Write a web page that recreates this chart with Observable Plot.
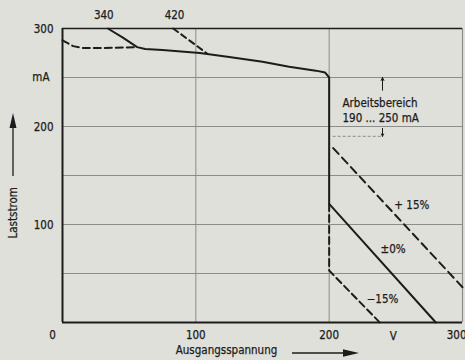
<!DOCTYPE html>
<html>
<head>
<meta charset="utf-8">
<script src="https://cdn.jsdelivr.net/npm/d3@7"></script>
<script src="https://cdn.jsdelivr.net/npm/@observablehq/plot@0.6"></script>
<style>
  html, body { margin: 0; padding: 0; background: #e0e0da; }
  svg { display: block; }
</style>
</head>
<body>
<div id="chart"></div>
<script>
// Main characteristic (solid)
const mainV = [34, 45, 56, 62, 75, 103, 125, 150, 170, 190, 197, 200, 200, 280];
const mainI = [300, 291, 281, 279, 278, 275, 271, 266, 261, 257, 255, 250, 121, 0];
// 340 V branch (dashed, left)
const d340V = [0, 8, 16, 30, 56];
const d340I = [288, 282, 280, 280, 281];
// 420 V branch (dashed)
const d420V = [83, 95, 108];
const d420I = [300, 288, 275];
// +15 % branch (dashed)
const plusV = [203, 300];
const plusI = [178, 36];
// -15 % branch (dashed)
const minusV = [200, 200, 238];
const minusI = [121, 53, 0];

const gridY = [50, 100, 150, 200, 250];
const gridX = [100, 200];
const yTicks = [100, 200, 300];
const yTickLabels = ["100", "200", "300"];
const xTicks = [100, 200];
const xTickLabels = ["100", "200"];
const topLabels = [{v: 31, t: "340"}, {v: 84, t: "420"}];
const pctLabels = [
  {v: 262, i: 120, t: "+ 15%"},
  {v: 248, i: 75, t: "±0%"},
  {v: 240, i: 24, t: "−15%"}
];
const workLow = 190, workHigh = 250;

const zip = (xs, ys) => xs.map((x, k) => ({x, y: ys[k]}));
const font = "'DejaVu Sans Condensed', 'DejaVu Sans', sans-serif";
const ink = "#1c1c1c";
const gridC = "#8c8c88";
const txt = {fill: ink, stroke: ink, strokeWidth: 0.25};

const chart = Plot.plot({
  width: 465,
  height: 360,
  marginLeft: 62,
  marginRight: 3,
  marginTop: 28,
  marginBottom: 38,
  x: {domain: [0, 300], axis: null},
  y: {domain: [0, 300], axis: null},
  style: {background: "#e0e0da", fontFamily: font, fontSize: "11.5px", color: ink},
  marks: [
    // grid
    Plot.ruleY(gridY, {stroke: gridC, strokeWidth: 1}),
    Plot.ruleX(gridX, {stroke: gridC, strokeWidth: 1}),
    Plot.ruleX([300], {stroke: gridC, strokeWidth: 1.2}),
    // frame
    Plot.ruleY([300], {stroke: ink, strokeWidth: 1.6}),
    Plot.ruleY([0], {stroke: ink, strokeWidth: 2}),
    Plot.ruleX([0], {stroke: ink, strokeWidth: 2}),
    // curves
    Plot.line(zip(mainV, mainI), {x: "x", y: "y", stroke: ink, strokeWidth: 2, curve: "linear"}),
    Plot.line(zip(d340V, d340I), {x: "x", y: "y", stroke: ink, strokeWidth: 2, strokeDasharray: "7,4"}),
    Plot.line(zip(d420V, d420I), {x: "x", y: "y", stroke: ink, strokeWidth: 2, strokeDasharray: "6,4"}),
    Plot.line(zip(plusV, plusI), {x: "x", y: "y", stroke: ink, strokeWidth: 2, strokeDasharray: "8,5"}),
    Plot.line(zip(minusV, minusI), {x: "x", y: "y", stroke: ink, strokeWidth: 2, strokeDasharray: "7,4"}),
    // working-range bracket
    Plot.ruleY([workLow], {x1: 203, x2: 240, stroke: gridC, strokeWidth: 1, strokeDasharray: "3,2"}),
    Plot.arrow([{y1: 237, y2: workHigh}, {y1: 198, y2: workLow}], {
      x: 240, y1: "y1", y2: "y2", stroke: ink, strokeWidth: 1, headLength: 5, headAngle: 50
    }),
    Plot.text(["Arbeitsbereich"], {x: 210, y: 224, text: d => d, textAnchor: "start", ...txt}),
    Plot.text(["190 ... 250 mA"], {x: 210, y: 208, text: d => d, textAnchor: "start", ...txt}),
    // percentage labels
    Plot.text(pctLabels, {x: "v", y: "i", text: "t", ...txt}),
    // top curve labels
    Plot.text(topLabels, {x: "v", y: 300, text: "t", dy: -13, ...txt}),
    // y tick labels
    Plot.text(yTicks, {x: 0, y: d => d, text: (d, k) => yTickLabels[k], dx: -9, dy: 1, textAnchor: "end", ...txt}),
    Plot.text(["mA"], {x: 0, y: 250, text: d => d, dx: -13, textAnchor: "end", ...txt}),
    // x tick labels
    Plot.text(xTicks, {x: d => d, y: 0, text: (d, k) => xTickLabels[k], dy: 13, ...txt}),
    Plot.text(["V"], {x: 248, y: 0, text: d => d, dy: 14, ...txt}),
    Plot.text(["300"], {x: 300, y: 0, text: d => d, dy: 13, dx: 4, textAnchor: "end", ...txt}),
    Plot.text(["0"], {x: 0, y: 0, text: d => d, dx: -10, dy: 13, ...txt}),
    // axis titles
    Plot.text(["Laststrom"], {frameAnchor: "left", dx: -49, dy: 63, rotate: -90, text: d => d, ...txt}),
    Plot.text(["Ausgangsspannung"], {frameAnchor: "bottom", dx: -36, dy: 31, text: d => d, ...txt})
  ]
});

const svg = d3.select(chart);
// axis-title arrows
svg.append("line").attr("x1", 13).attr("y1", 176).attr("x2", 13).attr("y2", 125)
  .attr("stroke", ink).attr("stroke-width", 1.3);
svg.append("path").attr("d", "M13,113 L9.5,128 L16.5,128 Z").attr("fill", ink);
svg.append("line").attr("x1", 292).attr("y1", 353).attr("x2", 345).attr("y2", 353)
  .attr("stroke", ink).attr("stroke-width", 1.3);
svg.append("path").attr("d", "M359,353 L343,349.3 L343,356.7 Z").attr("fill", ink);

document.getElementById("chart").appendChild(chart);
</script>
</body>
</html>
